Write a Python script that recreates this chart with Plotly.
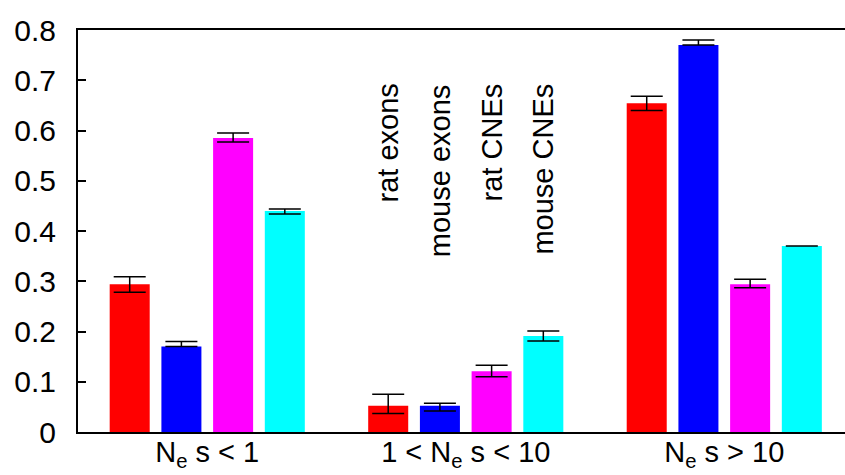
import plotly.graph_objects as go

categories = ["N<sub>e</sub> s < 1", "1 < N<sub>e</sub> s < 10", "N<sub>e</sub> s > 10"]
series_names = ["rat exons", "mouse exons", "rat CNEs", "mouse CNEs"]
colors = ["#ff0000", "#0000ff", "#ff00ff", "#00ffff"]

rat_exons = [0.294, 0.052, 0.654]
mouse_exons = [0.170, 0.052, 0.770]
rat_cnes = [0.585, 0.121, 0.294]
mouse_cnes = [0.440, 0.191, 0.370]

rat_exons_err_up = [0.015, 0.023, 0.014]
rat_exons_err_down = [0.016, 0.015, 0.014]
mouse_exons_err_up = [0.010, 0.005, 0.010]
mouse_exons_err_down = [0.000, 0.010, 0.000]
rat_cnes_err_up = [0.010, 0.012, 0.010]
rat_cnes_err_down = [0.008, 0.011, 0.007]
mouse_cnes_err_up = [0.004, 0.010, 0.000]
mouse_cnes_err_down = [0.006, 0.010, 0.000]

y_ticks = [0, 0.1, 0.2, 0.3, 0.4, 0.5, 0.6, 0.7, 0.8]
y_tick_labels = ["0", "0.1", "0.2", "0.3", "0.4", "0.5", "0.6", "0.7", "0.8"]

values = [rat_exons, mouse_exons, rat_cnes, mouse_cnes]
err_up = [rat_exons_err_up, mouse_exons_err_up, rat_cnes_err_up, mouse_cnes_err_up]
err_down = [rat_exons_err_down, mouse_exons_err_down, rat_cnes_err_down, mouse_cnes_err_down]

FONT = "Liberation Sans, Arial, Helvetica, sans-serif"

fig = go.Figure()
for name, vals, up, down, col in zip(series_names, values, err_up, err_down, colors):
    fig.add_trace(go.Bar(
        x=categories, y=vals, name=name,
        marker=dict(color=col, line=dict(width=0)),
        error_y=dict(type="data", symmetric=False, array=up, arrayminus=down,
                     color="black", thickness=1.5, width=16),
        showlegend=False,
    ))

# rotated series labels above the middle group
slot = 0.2
for i, name in enumerate(series_names):
    fig.add_annotation(
        x=1 + (i - 1.5) * slot, y=0.697, xref="x", yref="y",
        text=name, textangle=-90, showarrow=False,
        xanchor="center", yanchor="top", xshift=0,
        font=dict(family=FONT, size=29, color="black"),
    )

fig.update_layout(
    width=845, height=475,
    margin=dict(l=78, r=0, t=30, b=43),
    paper_bgcolor="white", plot_bgcolor="white",
    barmode="group", bargap=0.2, bargroupgap=0.226,
    font=dict(family=FONT, size=28, color="black"),
    xaxis=dict(
        range=[-0.5, 2.467], showline=True, linecolor="black", linewidth=2,
        mirror=True, ticks="", showgrid=False, zeroline=False,
        tickfont=dict(family=FONT, size=29, color="black"),
        ticklabelstandoff=-7,
        automargin=False,
    ),
    yaxis=dict(
        range=[0, 0.8], tickvals=y_ticks, ticktext=y_tick_labels,
        showline=True, linecolor="black", linewidth=2,
        ticks="inside", ticklen=8, tickwidth=1.5, tickcolor="black",
        showgrid=False, zeroline=False, ticklabelstandoff=14,
        tickfont=dict(family=FONT, size=30, color="black"),
        automargin=False,
    ),
    yaxis2=dict(
        range=[0, 0.8], tickvals=y_ticks, overlaying="y", side="right",
        showline=False, ticks="inside", ticklen=2, tickwidth=1.5, tickcolor="black",
        showticklabels=False, showgrid=False, zeroline=False,
    ),
)

fig.write_html(
    "out.html",
    config={"displayModeBar": False},
    post_script="document.body.style.margin='0';document.body.style.overflow='hidden';",
)
